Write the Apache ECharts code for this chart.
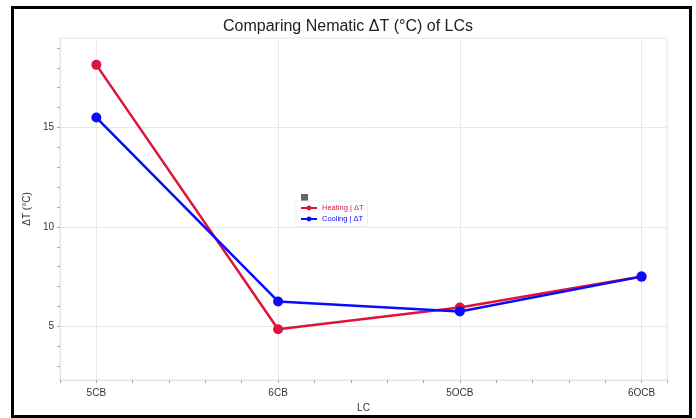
<!DOCTYPE html>
<html>
<head>
<meta charset="utf-8">
<script src="https://cdn.jsdelivr.net/npm/echarts@6/dist/echarts.min.js"></script>
<style>
  html, body { margin: 0; padding: 0; background: #fff; }
  #chart { width: 696px; height: 418px; }
</style>
</head>
<body>
<div id="chart"></div>
<script>
// data
const lcNames = ["5CB", "6CB", "5OCB", "6OCB"];
const heating = [18.15, 4.85, 5.95, 7.5];
const cooling = [15.5, 6.25, 5.75, 7.5];
const yTicks = [3, 4, 5, 6, 7, 8, 9, 10, 11, 12, 13, 14, 15, 16, 17, 18, 19];
const yLabels = [5, 10, 15];
const seriesNames = ["Heating | ΔT", "Cooling | ΔT"];
const seriesColors = ["#dc143c", "#0a0aff"];

const chart = echarts.init(document.getElementById("chart"), null, { renderer: "canvas" });

const toPoints = (vals) => vals.map((v, i) => [i, v]);
const gridStyle = { color: "#e8e8e8", width: 1, type: "solid" };
const fontFam = "Liberation Sans";

const option = {
  backgroundColor: "#fff",
  animation: false,
  title: {
    text: "Comparing Nematic ΔT (°C) of LCs",
    left: "center",
    top: 14,
    textStyle: { fontFamily: fontFam, fontSize: 16, fontWeight: "normal", color: "#222" }
  },
  grid: {
    left: 60, top: 38, right: 29, bottom: 38,
    show: true, borderColor: "#e4e4e4", borderWidth: 1
  },
  legend: {
    orient: "vertical",
    left: 296, top: 201,
    itemWidth: 16, itemHeight: 6, itemGap: 3,
    padding: [3, 4],
    borderColor: "#eeeeee", borderWidth: 1,
    data: seriesNames,
    formatter: (n) => "{" + (n === seriesNames[0] ? "h" : "c") + "|" + n + "}",
    textStyle: {
      fontFamily: fontFam, fontSize: 7,
      rich: {
        h: { color: seriesColors[0], fontSize: 7.5, fontFamily: fontFam },
        c: { color: seriesColors[1], fontSize: 7.5, fontFamily: fontFam }
      }
    }
  },
  xAxis: {
    type: "value",
    min: -0.2, max: 3.14, interval: 0.2,
    name: "LC", nameLocation: "middle", nameGap: 22,
    nameTextStyle: { fontFamily: fontFam, fontSize: 10, color: "#333" },
    axisLine: { show: true, onZero: false, lineStyle: { color: "#e4e4e4" } },
    axisTick: { show: true, length: 3, lineStyle: { color: "#aaa" } },
    splitLine: { show: false },
    axisLabel: {
      fontFamily: fontFam, fontSize: 10, color: "#333", margin: 8,
      formatter: (v) => {
        const r = Math.round(v);
        return Math.abs(v - r) < 1e-6 && lcNames[r] ? lcNames[r] : "";
      }
    }
  },
  yAxis: {
    type: "value",
    min: 2.3, max: 19.5,
    name: "ΔT (°C)", nameLocation: "middle", nameGap: 28,
    nameTextStyle: { fontFamily: fontFam, fontSize: 10, color: "#333" },
    axisLine: { show: true, onZero: false, lineStyle: { color: "#e4e4e4" } },
    axisTick: { show: true, length: 3, customValues: yTicks, lineStyle: { color: "#aaa" } },
    splitLine: { show: false },
    axisLabel: { customValues: yLabels, fontFamily: fontFam, fontSize: 10, color: "#333", margin: 6 }
  },
  series: [
    {
      // grid lines only
      type: "line",
      data: [],
      z: 1,
      silent: true,
      markLine: {
        silent: true, symbol: "none", label: { show: false },
        lineStyle: gridStyle,
        z: 1,
        data: lcNames.map((n, i) => ({ xAxis: i })).concat(yLabels.map((v) => ({ yAxis: v })))
      }
    },
    {
      name: seriesNames[0],
      type: "line",
      data: toPoints(heating),
      color: seriesColors[0],
      symbol: "circle", symbolSize: 10,
      lineStyle: { width: 2.5 },
      z: 3
    },
    {
      name: seriesNames[1],
      type: "line",
      data: toPoints(cooling),
      color: seriesColors[1],
      symbol: "circle", symbolSize: 10,
      lineStyle: { width: 2.5 },
      z: 4
    }
  ],
  graphic: [
    {
      type: "rect",
      left: 301, top: 194,
      shape: { width: 7, height: 7 },
      style: { fill: "#666" }
    },
    {
      type: "rect",
      left: 10, top: 5,
      shape: { width: 678, height: 409 },
      style: { fill: "none", stroke: "#000", lineWidth: 3 }
    }
  ]
};

chart.setOption(option);
</script>
</body>
</html>
